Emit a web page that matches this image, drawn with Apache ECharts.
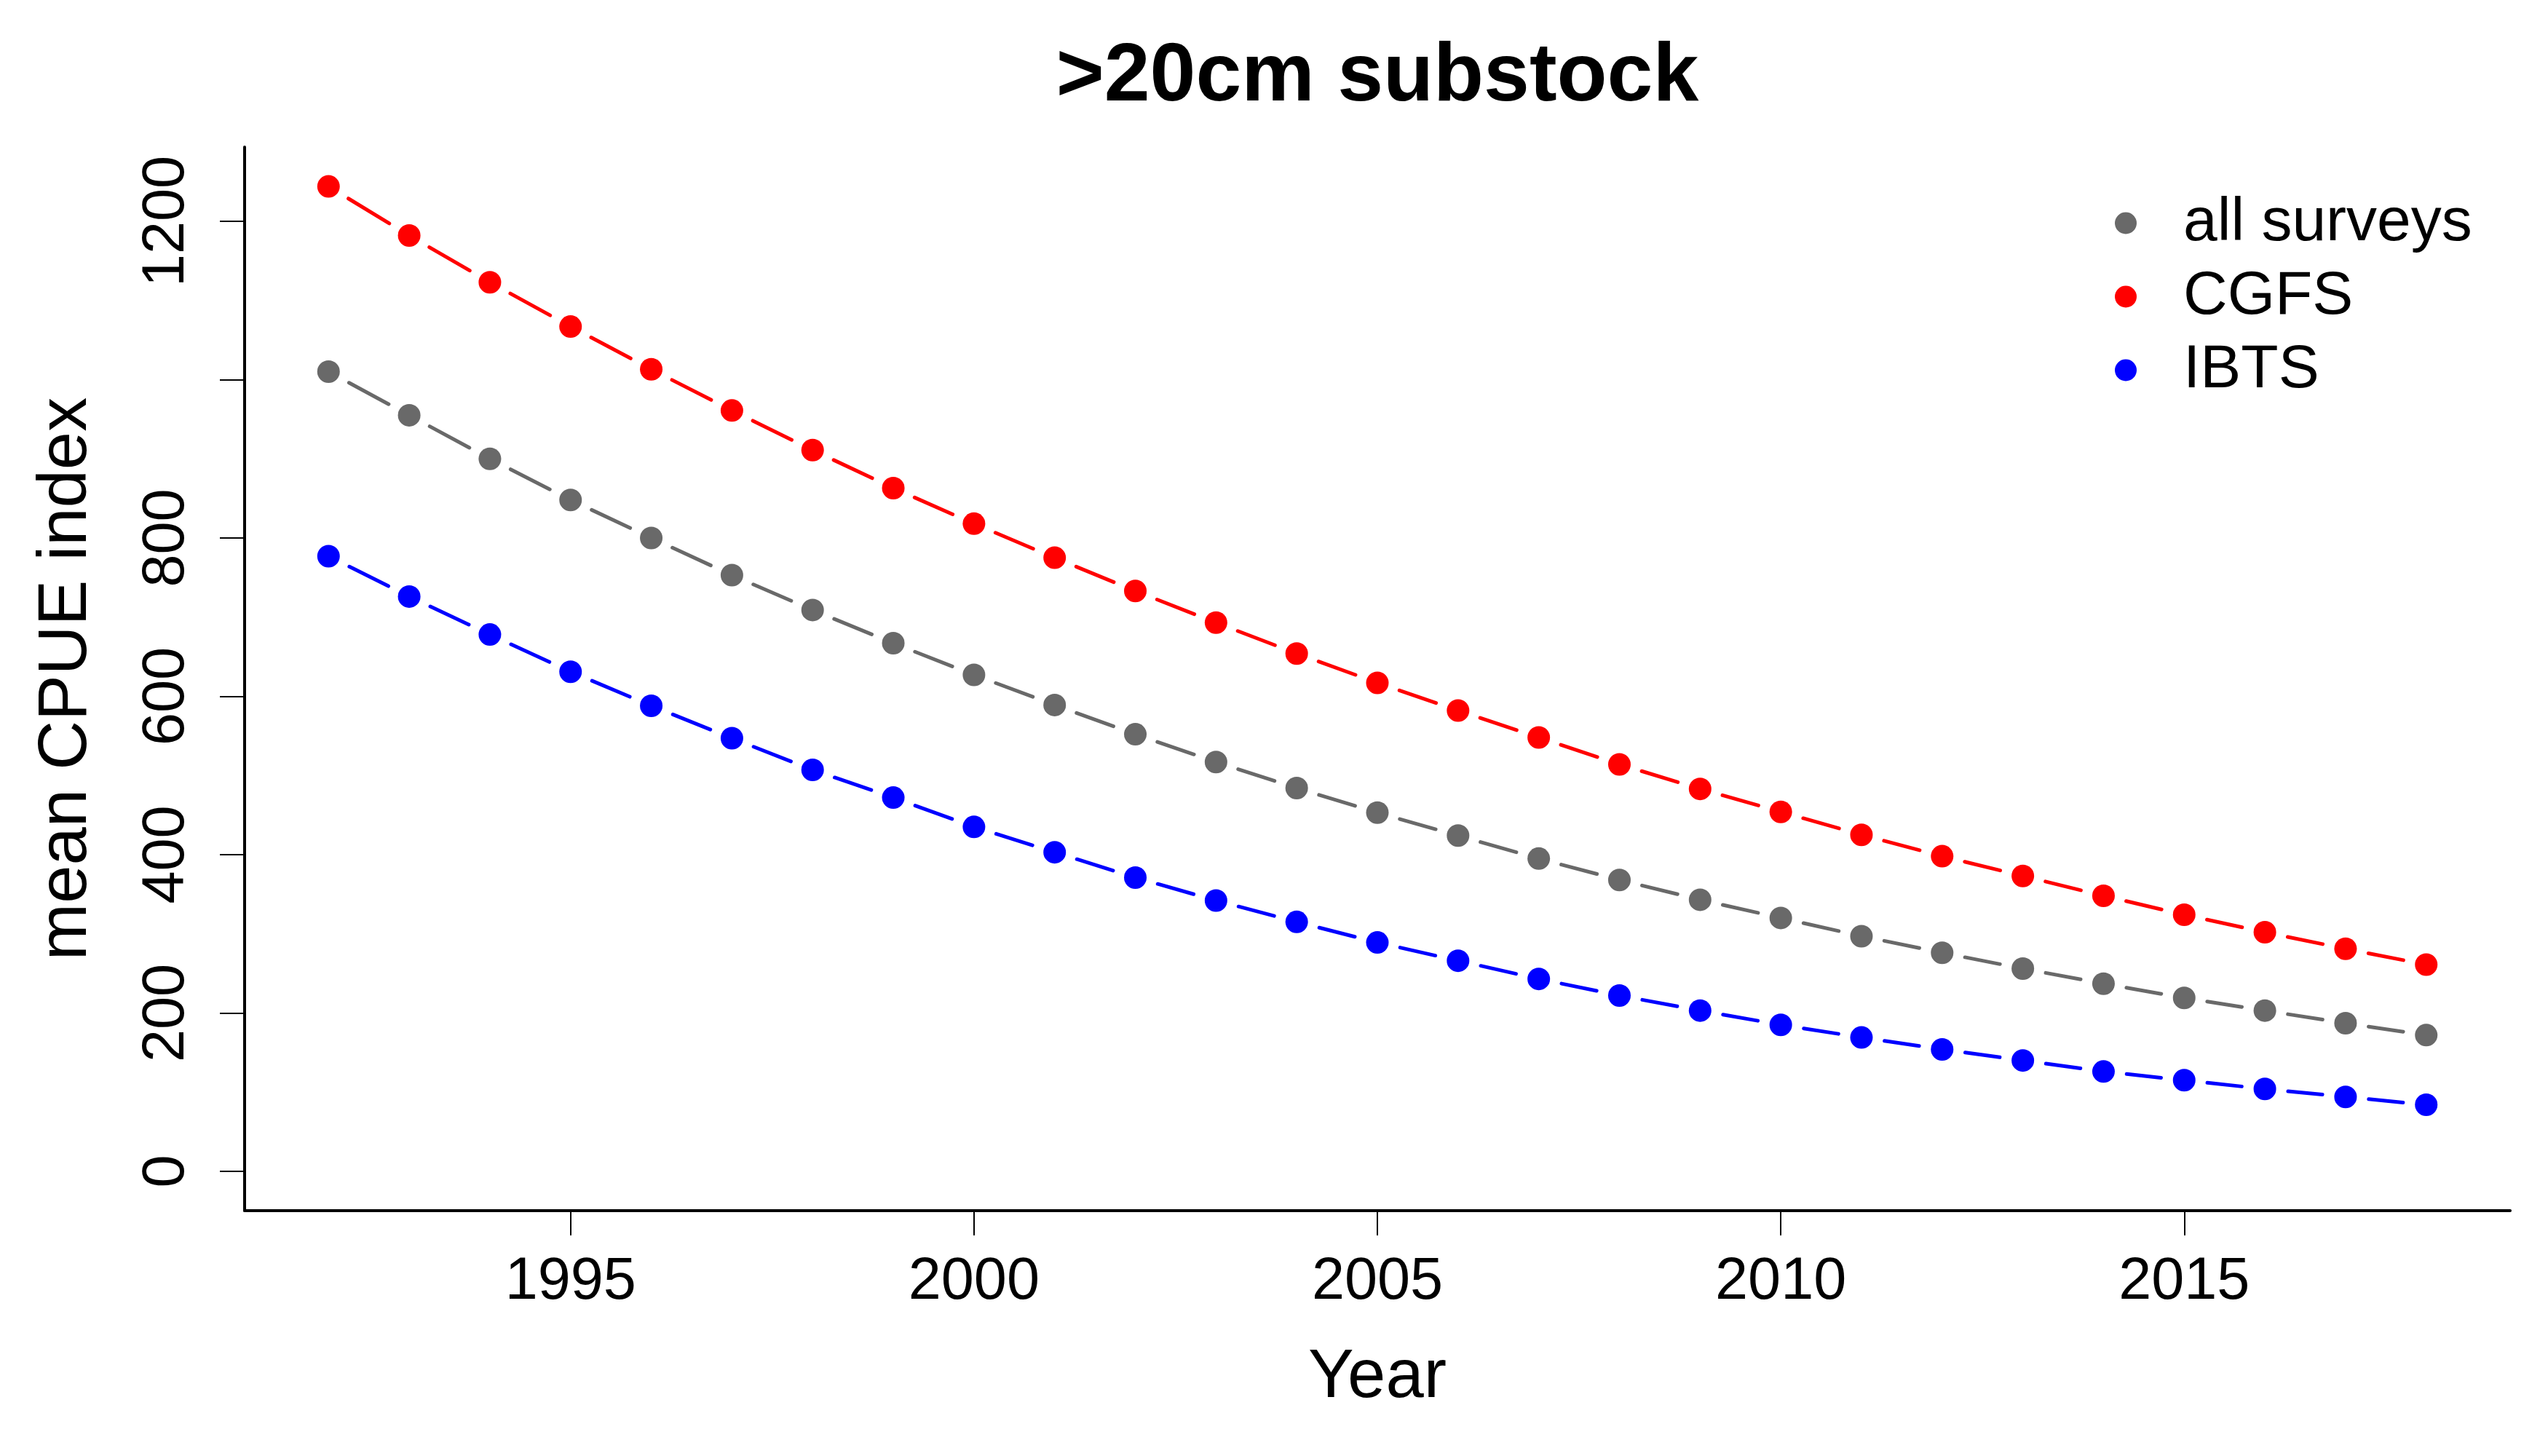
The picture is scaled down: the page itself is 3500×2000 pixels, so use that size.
<!DOCTYPE html>
<html>
<head>
<meta charset="utf-8">
<title>>20cm substock</title>
<script src="https://cdn.jsdelivr.net/npm/echarts@6/dist/echarts.min.js"></script>
<style>
  html, body { margin: 0; padding: 0; background: #fff; }
  #chart { width: 3500px; height: 2000px; }
</style>
</head>
<body>
<div id="chart"></div>
<script>
// values
var years = [1992, 1993, 1994, 1995, 1996, 1997, 1998, 1999, 2000, 2001, 2002, 2003, 2004, 2005,
             2006, 2007, 2008, 2009, 2010, 2011, 2012, 2013, 2014, 2015, 2016, 2017, 2018];
var allSurveys = [1010, 955, 900, 848, 800, 753, 709, 667, 627, 589, 552, 517, 484, 453,
                  424, 395, 368, 343, 320, 297, 276, 256, 237, 219, 203, 187, 172];
var cgfs = [1244, 1182, 1123, 1067, 1013, 961, 911, 863, 818, 775, 733, 693, 654, 617,
            582, 548, 514, 483, 454, 425, 398, 373, 348, 324, 302, 281, 261];
var ibts = [777, 726, 678, 631, 588, 547, 507, 472, 435, 403, 371, 342, 315, 289,
            266, 243, 222, 203, 185, 169, 154, 140, 126, 115, 104, 94, 84];

var xTicks = [1995, 2000, 2005, 2010, 2015];
var yTicks = [0, 200, 400, 600, 800, 1000, 1200];
var yLabels = [0, 200, 400, 600, 800, 1200];   // 1000 has no label in the original

var FONT = 'Liberation Sans, Arial, Helvetica, sans-serif';
var GAP = 32;   // gap between a point and the line segment (type="b" look)

// axis ranges like R's default 4% extension, y starting from 0
var yMaxData = Math.max.apply(null, cgfs);
var yMin = -0.04 * yMaxData, yMax = 1.04 * yMaxData;
var xSpan = years[years.length - 1] - years[0];
var xMin = years[0] - 0.04 * xSpan, xMax = years[years.length - 1] + 0.04 * xSpan;

// each item holds a point and the next point, so a segment can be drawn with gaps
function pairs(vals) {
  return years.map(function (y, i) {
    if (i + 1 < years.length) return [y, vals[i], years[i + 1], vals[i + 1]];
    return [y, vals[i], null, null];
  });
}

function drawSurvey(color) {
  return function (params, api) {
    var p0 = api.coord([api.value(0), api.value(1)]);
    var kids = [];
    var nx = api.value(2);
    if (nx != null && !isNaN(nx)) {
      var p1 = api.coord([nx, api.value(3)]);
      var dx = p1[0] - p0[0], dy = p1[1] - p0[1];
      var len = Math.sqrt(dx * dx + dy * dy);
      var ux = dx / len, uy = dy / len;
      kids.push({
        type: 'line',
        shape: { x1: p0[0] + ux * GAP, y1: p0[1] + uy * GAP, x2: p1[0] - ux * GAP, y2: p1[1] - uy * GAP },
        style: { stroke: color, lineWidth: 5, lineCap: 'round' }
      });
    }
    kids.push({ type: 'circle', shape: { cx: p0[0], cy: p0[1], r: 15.5 }, style: { fill: color } });
    return { type: 'group', children: kids };
  };
}

function survey(name, vals, color) {
  return {
    name: name,
    type: 'custom',
    renderItem: drawSurvey(color),
    itemStyle: { color: color },
    encode: { x: [0, 2], y: [1, 3] },
    data: pairs(vals)
  };
}

var chart = echarts.init(document.getElementById('chart'), null, { renderer: 'canvas' });

var option = {
  animation: false,
  backgroundColor: '#ffffff',
  title: {
    text: '>20cm substock',
    left: 1892,
    top: 50,
    padding: 0,
    textAlign: 'center',
    textStyle: { fontFamily: FONT, fontSize: 113, fontWeight: 'bold', color: '#000' }
  },
  legend: {
    orient: 'vertical',
    left: 2905,
    top: 256,
    padding: 0,
    itemGap: 0,
    itemWidth: 148,
    itemHeight: 30,
    icon: 'circle',
    textStyle: { fontFamily: FONT, fontSize: 84, color: '#000', lineHeight: 101 },
    data: ['all surveys', 'CGFS', 'IBTS']
  },
  grid: {
    left: 336, right: 52, top: 202, bottom: 337,
    containLabel: false,
    outerBoundsMode: 'none'
  },
  xAxis: {
    type: 'value',
    min: xMin,
    max: xMax,
    name: 'Year',
    nameLocation: 'middle',
    nameGap: 183,
    nameMoveOverlap: false,
    nameTextStyle: { fontFamily: FONT, fontSize: 94, color: '#000' },
    splitLine: { show: false },
    axisLine: { show: true, onZero: false, lineStyle: { color: '#000', width: 4 } },
    axisTick: { show: true, length: 34, customValues: xTicks, lineStyle: { color: '#000', width: 2 } },
    axisLabel: {
      customValues: xTicks,
      margin: 58,
      fontFamily: FONT, fontSize: 81, color: '#000',
      formatter: function (v) { return String(v); }
    }
  },
  yAxis: {
    type: 'value',
    min: yMin,
    max: yMax,
    name: 'mean CPUE index',
    nameLocation: 'middle',
    nameGap: 197,
    nameMoveOverlap: false,
    nameTextStyle: { fontFamily: FONT, fontSize: 94, color: '#000' },
    splitLine: { show: false },
    axisLine: { show: true, lineStyle: { color: '#000', width: 4 } },
    axisTick: { show: true, length: 34, customValues: yTicks, lineStyle: { color: '#000', width: 2 } },
    axisLabel: {
      customValues: yLabels,
      rotate: 90,
      align: 'center',
      verticalAlign: 'bottom',
      margin: 66,
      fontFamily: FONT, fontSize: 81, color: '#000',
      formatter: function (v) { return String(v); }
    }
  },
  series: [
    survey('all surveys', allSurveys, '#696969'),
    survey('CGFS', cgfs, '#ff0000'),
    survey('IBTS', ibts, '#0000ff')
  ]
};

chart.setOption(option);
</script>
</body>
</html>
